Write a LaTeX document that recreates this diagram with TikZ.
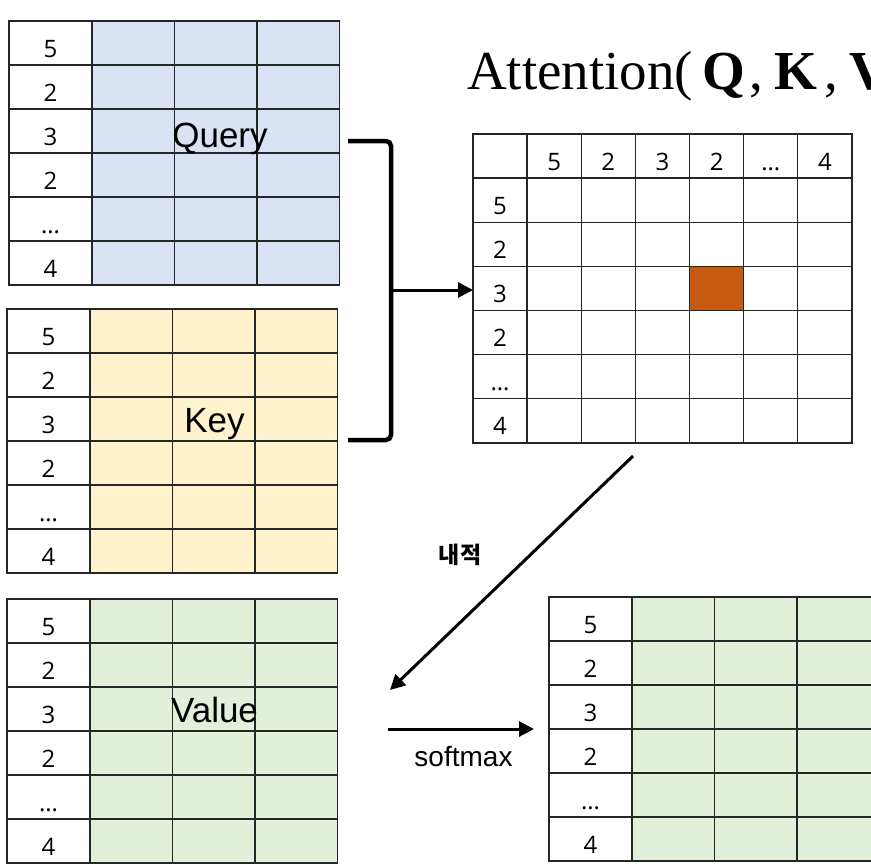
\documentclass[tikz,border=0pt]{standalone}
\usepackage{fontspec}
\setmainfont{Liberation Sans}
\newfontfamily\lblfont{Liberation Sans}
\newfontfamily\numfont{Open Sans}
\newfontfamily\formulafont{Liberation Serif}
\newfontfamily\krfont{Noto Sans CJK KR}
\usetikzlibrary{arrows.meta}

\definecolor{qblue}{HTML}{DAE3F3}
\definecolor{kyellow}{HTML}{FFF2CC}
\definecolor{vgreen}{HTML}{E2F0D9}
\definecolor{hotcell}{HTML}{C55A11}

\tikzset{
  gridline/.style={draw=black!85, line width=1.3pt},
  celltext/.style={anchor=base, inner sep=0pt, font=\numfont\fontsize{24}{24}\selectfont},
  tablabel/.style={anchor=base, inner sep=0pt, font=\lblfont\fontsize{35}{35}\selectfont},
  formulatext/.style={anchor=base west, inner sep=0pt, font=\formulafont\fontsize{55}{55}\selectfont},
  bracketline/.style={line width=4.5pt, rounded corners=5pt},
  flowarrow/.style={line width=3pt, -{Triangle[length=15pt,width=15pt]}},
}

% A token table: one index column of labels and three filled feature columns
\newcommand\tokentable[4]{%
  \begin{scope}[shift={(#2,#3)}]
    \fill[#4] (83,0) rectangle (330.5,264);
    \foreach \c in {83,165.5,248} \draw[gridline] (\c,0) -- (\c,264);
    \foreach \r in {44,88,132,176,220} \draw[gridline] (0,\r) -- (330.5,\r);
    \draw[gridline] (0,0) rectangle (330.5,264);
    \foreach \t [count=\i] in {5,2,3,2,…,4}
      \node[celltext] (#1-\i) at (41.5,{44*\i-8}) {\t};
  \end{scope}}

\begin{document}
\begin{tikzpicture}[x=1pt,y=-1pt]
  \clip (0,0) rectangle (871,865);
  \fill[white] (0,0) rectangle (871,865);

  % Query, Key, Value and the weighted output
  \tokentable{q}{9}{21}{qblue}
  \tokentable{k}{7}{309}{kyellow}
  \tokentable{v}{7}{599}{vgreen}
  \tokentable{o}{549}{597}{vgreen}

  \node[tablabel] (qname) at (220,147) {Query};
  \node[tablabel] (kname) at (214.5,432) {Key};
  \node[tablabel] (vname) at (214.5,722) {Value};

  % formula heading, set piece by piece for math-like spacing
  \node[formulatext] (fname)   at (467,89) {Attention(};
  \node[formulatext] (fq)      at (702,89) {\textbf{Q}};
  \node[formulatext] (fcomma1) at (749,89) {,};
  \node[formulatext] (fk)      at (774,89) {\textbf{K}};
  \node[formulatext] (fcomma2) at (824,89) {,};
  \node[formulatext] (fv)      at (849,89) {\textbf{V}};

  % score matrix: 7 x 7 grid, header row and column
  \begin{scope}[shift={(473,134)}]
    \fill[hotcell] (4*54.14,3*44.14) rectangle (5*54.14,4*44.14);
    \foreach \i in {1,...,6} {
      \draw[gridline] (\i*54.14,0) -- (\i*54.14,309);
      \draw[gridline] (0,\i*44.14) -- (379,\i*44.14);
    }
    \draw[gridline] (0,0) rectangle (379,309);
    \foreach \t [count=\i] in {5,2,3,2,…,4} {
      \node[celltext] (col-\i) at ({54.14*\i+27.07},36) {\t};
      \node[celltext] (row-\i) at (27.07,{44.14*\i+36}) {\t};
    }
  \end{scope}

  % bracket joining Query and Key, arrow into the score matrix
  \coordinate (qend) at (348,141);
  \coordinate (kend) at (348,440);
  \coordinate (btop) at (391,141);
  \coordinate (bbot) at (391,440);
  \coordinate (bmid) at (391,290);
  \coordinate (scoreW) at (473,290);
  \draw[bracketline] (qend) -- (btop) -- (bbot) -- (kend);
  \draw[flowarrow] (bmid) -- (scoreW);

  % dot product arrow back to the value side
  \coordinate (dotstart) at (633,456);
  \coordinate (dotend) at (390,690);
  \draw[flowarrow] (dotstart) -- (dotend);
  \node[font=\krfont\bfseries\fontsize{23}{23}\selectfont, inner sep=0pt] (dotlabel) at (460,555) {내적};

  % softmax arrow into the output table
  \coordinate (smstart) at (388,729);
  \coordinate (smend) at (534,729);
  \draw[flowarrow] (smstart) -- (smend);
  \node[anchor=base, inner sep=0pt, font=\lblfont\fontsize{28}{28}\selectfont] (smlabel) at (463.5,766) {softmax};
\end{tikzpicture}
\end{document}
